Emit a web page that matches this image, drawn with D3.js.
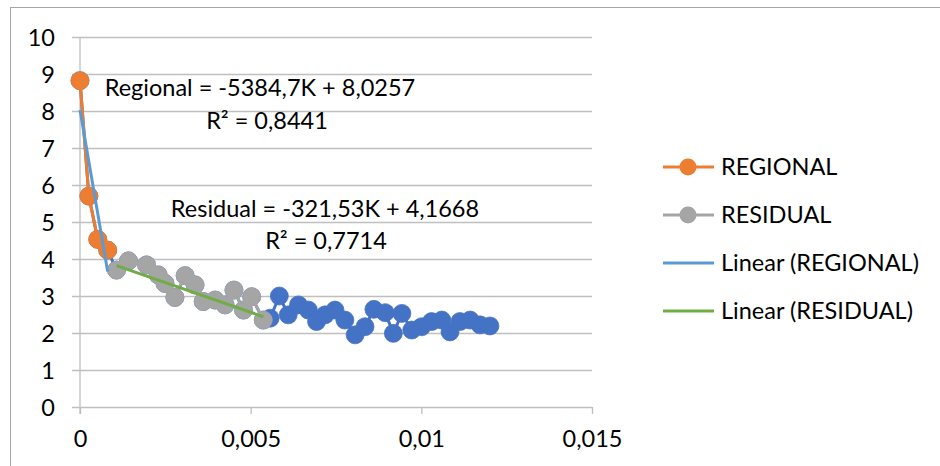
<!DOCTYPE html>
<html>
<head>
<meta charset="utf-8">
<script src="https://cdn.jsdelivr.net/npm/d3@7"></script>
<style>
  html, body { margin: 0; padding: 0; background: #fff; }
  svg { display: block; font-family: Lato, "Open Sans", sans-serif; }
</style>
</head>
<body>
<svg id="chart" width="940" height="466"></svg>
<script>
// Regional segment (steep part)
const regionalK = [0, 0.00026, 0.00052, 0.00081];
const regionalV = [8.82, 5.70, 4.53, 4.24];

// Residual segment
const residualK = [0.00107, 0.00142, 0.00195, 0.00229, 0.00249, 0.00278, 0.00308, 0.00337,
                   0.00361, 0.00396, 0.00425, 0.00451, 0.00479, 0.00503, 0.00537];
const residualV = [3.70, 3.95, 3.84, 3.57, 3.34, 2.96, 3.55, 3.30,
                   2.85, 2.89, 2.76, 3.16, 2.62, 2.98, 2.35];

// Remaining tail of the spectrum
const tailK = [0.00557, 0.00584, 0.0061, 0.0064, 0.00669, 0.00693, 0.00718, 0.00747,
               0.00776, 0.00806, 0.00835, 0.00861, 0.00894, 0.00918, 0.00943, 0.00972,
               0.01001, 0.0103, 0.0106, 0.01084, 0.01113, 0.01143, 0.01172, 0.01201];
const tailV = [2.40, 3.00, 2.49, 2.76, 2.62, 2.31, 2.49, 2.62,
               2.35, 1.95, 2.17, 2.64, 2.55, 1.99, 2.53, 2.08,
               2.17, 2.31, 2.35, 2.03, 2.31, 2.35, 2.22, 2.19];

// Linear fits: value = slope * K + intercept
const regionalFit = { slope: -5384.7, intercept: 8.0257, r2: "0,8441" };
const residualFit = { slope: -321.53, intercept: 4.1668, r2: "0,7714" };

const xTicks = [0, 0.005, 0.01, 0.015];
const xTickLabels = ["0", "0,005", "0,01", "0,015"];
const yTicks = [0, 1, 2, 3, 4, 5, 6, 7, 8, 9, 10];

const legendItems = ["REGIONAL", "RESIDUAL", "Linear (REGIONAL)", "Linear (RESIDUAL)"];

const C = {
  all: "#4472C4",
  regional: "#ED7D31",
  residual: "#A5A5A5",
  fitReg: "#5B9BD5",
  fitRes: "#70AD47",
  grid: "#BFBFBF",
  text: "#000"
};

const svg = d3.select("#chart");
const FS = 23.5;

// chart frame
svg.append("rect").attr("x", 10.5).attr("y", 7.5).attr("width", 960).attr("height", 500)
  .attr("fill", "none").attr("stroke", "#A6A6A6").attr("stroke-width", 1);

const x = d3.scaleLinear().domain([0, 0.015]).range([80, 592]);
const y = d3.scaleLinear().domain([0, 10]).range([407, 37]);

// horizontal gridlines with left tick stubs
const yAxis = d3.axisLeft(y).tickValues(yTicks).tickFormat(d3.format("d"))
  .tickSizeInner(-(592 - 72)).tickSizeOuter(0).tickPadding(0);
const gy = svg.append("g").attr("transform", "translate(72,0)").call(yAxis);
gy.select(".domain").remove();
gy.selectAll(".tick line").attr("stroke", C.grid).attr("stroke-width", 1.3);
gy.selectAll(".tick text").attr("x", -17).attr("dy", "0.35em")
  .attr("font-size", FS).attr("fill", C.text).attr("font-family", "Lato");

// x axis with ticks below
const xAxis = d3.axisBottom(x).tickValues(xTicks)
  .tickFormat((d, i) => xTickLabels[i]).tickSizeInner(7).tickSizeOuter(0).tickPadding(16);
const gx = svg.append("g").attr("transform", `translate(0,${y(0)})`).call(xAxis);
gx.select(".domain").remove();
gx.selectAll(".tick line").attr("stroke", C.grid).attr("stroke-width", 1.3);
gx.selectAll(".tick text").attr("font-size", FS).attr("fill", C.text).attr("font-family", "Lato");

// vertical axis line
svg.append("line").attr("x1", x(0)).attr("x2", x(0)).attr("y1", y(10)).attr("y2", y(0) + 7)
  .attr("stroke", C.grid).attr("stroke-width", 1.3);

const R = 9;
const line = d3.line().x(d => x(d[0])).y(d => y(d[1]));
const zip = (ks, vs) => ks.map((k, i) => [k, vs[i]]);

const regional = zip(regionalK, regionalV);
const residual = zip(residualK, residualV);
const tail = zip(tailK, tailV);
const all = regional.concat(residual, tail);

function drawSeries(data, color, withLine) {
  const g = svg.append("g");
  if (withLine) {
    g.append("path").attr("d", line(data)).attr("fill", "none")
      .attr("stroke", color).attr("stroke-width", 3).attr("stroke-linejoin", "round");
  }
  g.selectAll("circle").data(data).join("circle")
    .attr("cx", d => x(d[0])).attr("cy", d => y(d[1])).attr("r", R)
    .attr("fill", color).attr("stroke", color).attr("stroke-width", 0.75);
}

drawSeries(all, C.all, true);
drawSeries(regional, C.regional, true);
drawSeries(residual, C.residual, true);

function drawFit(fit, ks, color) {
  const x0 = d3.min(ks), x1 = d3.max(ks);
  svg.append("line")
    .attr("x1", x(x0)).attr("y1", y(fit.slope * x0 + fit.intercept))
    .attr("x2", x(x1)).attr("y2", y(fit.slope * x1 + fit.intercept))
    .attr("stroke", color).attr("stroke-width", 3);
}
drawFit(regionalFit, regionalK, C.fitReg);
drawFit(residualFit, residualK, C.fitRes);

// equation labels
const fmt = v => String(v).replace(".", ",");
function eqLabel(name, fit, cx1, cy1, cx2, cy2) {
  svg.append("text").attr("x", cx1).attr("y", cy1).attr("text-anchor", "middle")
    .attr("dy", "0.35em").attr("font-size", FS).attr("fill", C.text)
    .text(`${name} = ${fmt(fit.slope)}K + ${fmt(fit.intercept)}`);
  svg.append("text").attr("x", cx2).attr("y", cy2).attr("text-anchor", "middle")
    .attr("dy", "0.35em").attr("font-size", FS).attr("fill", C.text)
    .text(`R² = ${fit.r2}`);
}
eqLabel("Regional", regionalFit, 260, 88, 267, 121);
eqLabel("Residual", residualFit, 325, 209, 326, 241);

// legend
const legend = svg.append("g");
const legendColors = [C.regional, C.residual, C.fitReg, C.fitRes];
legendItems.forEach((label, i) => {
  const ly = 167 + i * 48;
  legend.append("line").attr("x1", 663).attr("x2", 714).attr("y1", ly).attr("y2", ly)
    .attr("stroke", legendColors[i]).attr("stroke-width", 3);
  if (i < 2) {
    legend.append("circle").attr("cx", 688).attr("cy", ly).attr("r", 8.5)
      .attr("fill", legendColors[i]);
  }
  legend.append("text").attr("x", 721).attr("y", ly).attr("dy", "0.35em")
    .attr("font-size", FS).attr("fill", C.text).text(label);
});
</script>
</body>
</html>
